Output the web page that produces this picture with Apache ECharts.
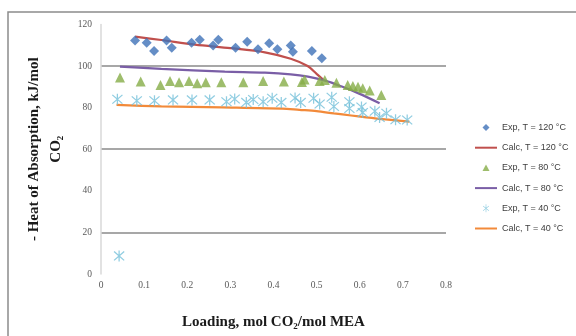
<!DOCTYPE html>
<html><head><meta charset="utf-8">
<script src="https://cdn.jsdelivr.net/npm/echarts@6/dist/echarts.min.js"></script>
<style>html,body{margin:0;padding:0;background:#fff}#c{width:576px;height:336px}</style>
</head><body><div id="c"></div>
<script>
// Data (loading, -heat of absorption)
var exp120 = [[0.079,112.2],[0.106,111.2],[0.123,107.2],[0.152,112.2],[0.164,108.8],[0.210,111.2],[0.229,112.6],[0.260,109.8],[0.272,112.6],[0.312,108.8],[0.339,111.7],[0.364,108.0],[0.390,110.9],[0.409,108.0],[0.440,109.8],[0.445,106.9],[0.489,107.2],[0.512,103.7]];
var calc120 = [[0.079,114.1],[0.14,112.5],[0.218,110.3],[0.30,108.6],[0.38,106.6],[0.44,103.5],[0.479,100.0],[0.50,96.2],[0.515,93.5]];
var exp80 = [[0.044,94.5],[0.092,92.5],[0.138,90.9],[0.160,92.8],[0.181,92.2],[0.204,92.8],[0.223,91.7],[0.243,92.2],[0.279,92.2],[0.330,92.2],[0.376,92.8],[0.424,92.5],[0.466,92.3],[0.472,93.5],[0.507,92.8],[0.519,93.3],[0.546,92.0],[0.572,90.9],[0.584,90.4],[0.596,90.0],[0.607,89.3],[0.623,88.2],[0.650,86.1]];
var calc80 = [[0.044,99.7],[0.14,98.6],[0.287,97.3],[0.38,96.8],[0.44,96.0],[0.48,94.9],[0.52,93.0],[0.56,90.0],[0.60,86.6],[0.646,82.1]];
var exp40 = [[0.038,84.0],[0.042,8.7],[0.083,83.3],[0.124,83.3],[0.167,83.7],[0.211,83.7],[0.252,83.7],[0.291,82.8],[0.310,84.1],[0.337,82.5],[0.353,83.9],[0.376,82.8],[0.397,84.5],[0.418,82.5],[0.450,84.6],[0.463,82.5],[0.493,84.5],[0.507,81.7],[0.535,85.0],[0.540,80.5],[0.576,82.8],[0.576,79.6],[0.604,80.3],[0.607,77.6],[0.635,78.3],[0.646,75.2],[0.662,77.3],[0.683,74.2],[0.710,74.0]];
var calc40 = [[0.036,81.3],[0.14,80.6],[0.28,80.1],[0.42,79.5],[0.46,78.9],[0.50,78.3],[0.54,77.2],[0.58,76.2],[0.615,75.3],[0.66,74.3],[0.715,73.3]];
var seriesNames = ['Exp, T = 120 °C','Calc, T = 120 °C','Exp, T = 80 °C','Calc, T = 80 °C','Exp, T = 40 °C','Calc, T = 40 °C'];
var xTitle = 'Loading, mol CO\u2082/mol MEA';
var yTitle = '- Heat of Absorption, kJ/mol\nCO\u2082';

var diamondPath = 'path://M4.5,0L9,4.5L4.5,9L0,4.5Z';
var starPath = 'path://M4.5,0H5.5V10H4.5Z M1.35,0.65L9.35,8.65L8.65,9.35L0.65,1.35Z M8.65,0.65L9.35,1.35L1.35,9.35L0.65,8.65Z';
var legDiamond = 'path://M0,0M22,14M11,3.5L14.5,7L11,10.5L7.5,7Z';
var legTri = 'path://M0,0M22,14M11,3.5L14.5,10L7.5,10Z';
var legStar = 'path://M0,0M22,14M10.7,3H11.3V11H10.7Z M8.2,4.4L14.1,9.1L13.8,9.6L7.9,4.9Z M13.8,4.4L14.1,4.9L8.2,9.6L7.9,9.1Z';
var legLine = 'path://M0,0M22,14M0,6H22V8H0Z';

var chart = echarts.init(document.getElementById('c'));
chart.setOption({
  backgroundColor: '#fff',
  animation: false,
  graphic: [{type:'rect', shape:{x:8,y:12,width:700,height:500}, style:{fill:'none', stroke:'#8c8c8c', lineWidth:1.5}, silent:true}],
  grid: {left:101, right:130, top:24.4, bottom:62},
  xAxis: {
    type:'value', min:0, max:0.8, interval:0.1,
    axisLine:{show:false}, axisTick:{show:false}, splitLine:{show:false},
    axisLabel:{fontFamily:'Liberation Serif', fontSize:9.5, color:'#595959', margin:6},
    name:xTitle, nameLocation:'middle', nameGap:41,
    nameTextStyle:{fontFamily:'Liberation Serif', fontWeight:'bold', fontSize:15, color:'#1a1a1a'}
  },
  yAxis: {
    type:'value', min:0, max:120, interval:20,
    axisLine:{show:true, lineStyle:{color:'#d9d9d9', width:1.5}}, axisTick:{show:false},
    splitLine:{show:true, lineStyle:{color:['rgba(0,0,0,0)','#8a8a8a'], width:1.5}},
    axisLabel:{fontFamily:'Liberation Serif', fontSize:9.5, color:'#595959', margin:9},
    name:yTitle, nameLocation:'middle', nameGap:24, nameRotate:90,
    nameTextStyle:{fontFamily:'Liberation Serif', fontWeight:'bold', fontSize:15, color:'#1a1a1a', lineHeight:22, align:'center'}
  },
  legend: {
    orient:'vertical', left:470, top:115.5, itemGap:6.2, itemWidth:22, itemHeight:14,
    textStyle:{fontFamily:'Liberation Sans', fontSize:9, color:'#404040'},
    data:[
      {name:seriesNames[0], icon:legDiamond},
      {name:seriesNames[1], icon:legLine},
      {name:seriesNames[2], icon:legTri},
      {name:seriesNames[3], icon:legLine},
      {name:seriesNames[4], icon:legStar},
      {name:seriesNames[5], icon:legLine}
    ]
  },
  series: [
    {name:seriesNames[0], type:'scatter', data:exp120, symbol:diamondPath, symbolSize:10, itemStyle:{color:'#3f72b8'}, z:5},
    {name:seriesNames[1], type:'line', data:calc120, smooth:0.3, showSymbol:false, symbol:'none', lineStyle:{color:'#c0504d', width:2.25}, itemStyle:{color:'#c0504d'}, z:3},
    {name:seriesNames[2], type:'scatter', data:exp80, symbol:'triangle', symbolSize:[10,10], itemStyle:{color:'#86ac47'}, z:5},
    {name:seriesNames[3], type:'line', data:calc80, smooth:0.3, showSymbol:false, symbol:'none', lineStyle:{color:'#7a5ea6', width:2.25}, itemStyle:{color:'#7a5ea6'}, z:3},
    {name:seriesNames[4], type:'scatter', data:exp40, symbol:starPath, symbolSize:11, itemStyle:{color:'#74c0da'}, z:5},
    {name:seriesNames[5], type:'line', data:calc40, smooth:0.3, showSymbol:false, symbol:'none', lineStyle:{color:'#f28a3a', width:2.25}, itemStyle:{color:'#f28a3a'}, z:3}
  ]
});
</script></body></html>
